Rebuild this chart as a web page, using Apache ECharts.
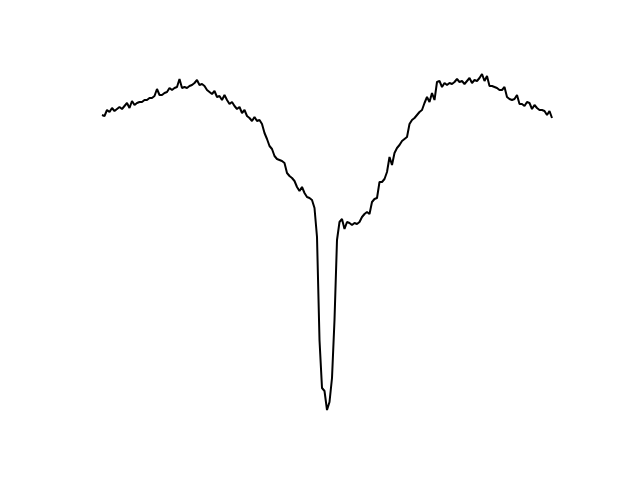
<!DOCTYPE html>
<html>
<head>
<meta charset="utf-8">
<script src="https://cdn.jsdelivr.net/npm/echarts@6/dist/echarts.min.js"></script>
<style>html,body{margin:0;padding:0;background:#fff}#c{width:640px;height:480px}</style>
</head>
<body>
<div id="c"></div>
<script>
const intensity = [
305,304,310,308,312,309,311,313,311,314,317,312,319,315,317,318,318,320,320,322,
322,324,331,325,325,327,328,332,330,332,333,341,332,333,332,334,335,337,340,335,
336,334,330,328,326,329,323,324,320,325,320,316,318,314,311,313,307,310,304,302,
299,303,299,300,296,287,281,274,271,264,261,260,259,257,247,244,242,239,233,229,
233,227,223,222,220,212,183,80,32,29,10,18,42,100,180,198,201,191,198,197,
195,197,196,198,203,206,208,206,218,221,222,238,238,241,248,263,255,267,272,275,
279,281,283,296,300,302,305,308,310,317,323,318,327,320,338,339,333,337,335,337,
336,338,341,338,339,336,339,342,337,340,339,342,346,339,344,334,334,333,332,330,
330,333,323,321,320,321,325,316,316,314,318,317,311,315,312,310,310,309,305,309,302
];
const index = intensity.map((_, i) => i);
const chart = echarts.init(document.getElementById('c'), null, {renderer: 'canvas'});
chart.setOption({
  animation: false,
  backgroundColor: '#ffffff',
  grid: {left: 102, right: 88, top: 74, bottom: 70},
  xAxis: {type: 'value', min: 0, max: intensity.length - 1, show: false},
  yAxis: {type: 'value', min: Math.min(...intensity), max: Math.max(...intensity), show: false},
  series: [{
    type: 'line',
    data: index.map(i => [i, intensity[i]]),
    showSymbol: false,
    lineStyle: {color: '#000000', width: 2},
    itemStyle: {color: '#000000'}
  }]
});
</script>
</body>
</html>
